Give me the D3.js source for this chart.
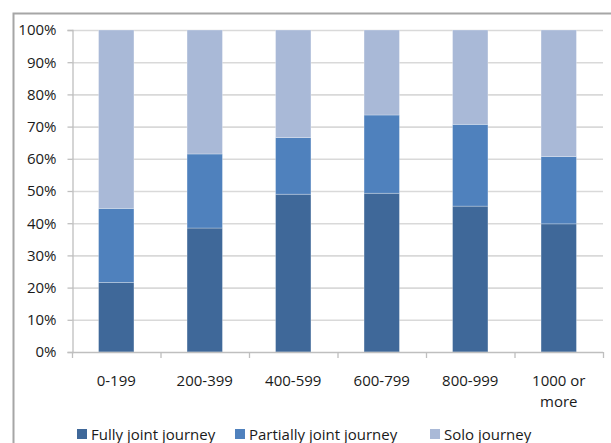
<!DOCTYPE html>
<html>
<head>
<meta charset="utf-8">
<script src="https://cdn.jsdelivr.net/npm/d3@7"></script>
<style>
  html, body { margin: 0; padding: 0; background: #fff; }
  svg { display: block; }
  text { font-family: "Open Sans", sans-serif; fill: #1A1A1A; }
</style>
</head>
<body>
<svg id="chart" width="611" height="443"></svg>
<script>
// Share of journeys by distance band
const categories = ["0-199", "200-399", "400-599", "600-799", "800-999", "1000 or more"];
const fullyJoint = [21.6, 38.5, 49.0, 49.3, 45.3, 39.8];
const partiallyJoint = [23.0, 23.0, 17.6, 24.3, 25.4, 20.9];
const solo = [55.4, 38.5, 33.4, 26.4, 29.3, 39.3];
const seriesNames = ["Fully joint journey", "Partially joint journey", "Solo journey"];
const seriesColors = ["#3F6899", "#4F81BD", "#A9B9D7"];
const yTicks = [0, 10, 20, 30, 40, 50, 60, 70, 80, 90, 100];

const FONT = 15;
const svg = d3.select("#chart");

// chart area frame (extends past the visible canvas on the right and bottom)
svg.append("rect")
  .attr("x", 13.5).attr("y", 13.5)
  .attr("width", 700).attr("height", 600)
  .attr("fill", "#fff").attr("stroke", "#A6A6A6").attr("stroke-width", 2);

const plot = { left: 72, right: 603, top: 30, bottom: 352 };

const x = d3.scaleBand().domain(categories).range([plot.left, plot.right]).paddingInner(0.6).paddingOuter(0.3);
const xb = d3.scaleBand().domain(categories).range([plot.left, plot.right]);
const y = d3.scaleLinear().domain([0, 100]).range([plot.bottom, plot.top]);

// gridlines
svg.append("g").selectAll("line").data(yTicks.filter(d => d > 0)).join("line")
  .attr("x1", plot.left).attr("x2", plot.right)
  .attr("y1", d => y(d) + 0.5).attr("y2", d => y(d) + 0.5)
  .attr("stroke", "#D9D9D9").attr("stroke-width", 1.6);

// stacked bars
const rows = categories.map((c, i) => ({ cat: c, f: fullyJoint[i], p: partiallyJoint[i], s: solo[i] }));
const stack = d3.stack().keys(["f", "p", "s"]);
const layers = stack(rows);

svg.append("g").selectAll("g").data(layers).join("g")
  .attr("fill", (d, i) => seriesColors[i])
  .selectAll("rect").data(d => d).join("rect")
  .attr("x", d => x(d.data.cat))
  .attr("width", x.bandwidth())
  .attr("y", d => y(d[1]))
  .attr("height", d => y(d[0]) - y(d[1]))
  .attr("stroke", "rgba(255,255,255,0.35)").attr("stroke-width", 0.8);

// y axis
const yAxis = svg.append("g").attr("transform", `translate(${plot.left + 0.5},0)`)
  .call(d3.axisLeft(y).tickValues(yTicks).tickFormat(d => d + "%").tickSize(5).tickPadding(11));
yAxis.select(".domain").attr("stroke", "#BFBFBF").attr("stroke-width", 1.3);
yAxis.selectAll(".tick line").attr("stroke", "#BFBFBF").attr("stroke-width", 1.3);
yAxis.selectAll(".tick text").attr("font-size", FONT).attr("font-family", "'Open Sans', sans-serif").attr("fill", "#1A1A1A");

// x axis baseline and boundary ticks
const xAxisG = svg.append("g");
xAxisG.append("line")
  .attr("x1", plot.left).attr("x2", plot.right)
  .attr("y1", plot.bottom + 0.5).attr("y2", plot.bottom + 0.5)
  .attr("stroke", "#BFBFBF").attr("stroke-width", 1.3);
const bounds = categories.map(c => xb(c)).concat([xb(categories[categories.length - 1]) + xb.bandwidth()]);
xAxisG.selectAll("line.tk").data(bounds).join("line").attr("class", "tk")
  .attr("x1", d => d + 0.5).attr("x2", d => d + 0.5)
  .attr("y1", plot.bottom).attr("y2", plot.bottom + 6)
  .attr("stroke", "#BFBFBF").attr("stroke-width", 1.3);

// category labels (wrap the long one)
const labelLines = { "1000 or more": ["1000 or", "more"] };
const labels = xAxisG.selectAll("text.cat").data(categories).join("text").attr("class", "cat")
  .attr("x", d => xb(d) + xb.bandwidth() / 2)
  .attr("y", plot.bottom + 34)
  .attr("text-anchor", "middle").attr("font-size", FONT);
labels.each(function(d) {
  const lines = labelLines[d] || [d];
  d3.select(this).selectAll("tspan").data(lines).join("tspan")
    .attr("x", xb(d) + xb.bandwidth() / 2)
    .attr("dy", (l, i) => i === 0 ? 0 : 21)
    .text(l => l);
});

// legend
const legendX = [77, 235, 430];
const legend = svg.append("g").selectAll("g").data(seriesNames).join("g")
  .attr("transform", (d, i) => `translate(${legendX[i]},429)`);
legend.append("rect").attr("width", 10).attr("height", 10).attr("y", 0)
  .attr("fill", (d, i) => seriesColors[i]);
legend.append("text").attr("x", 14).attr("y", 11).attr("font-size", FONT).text(d => d);
</script>
</body>
</html>
